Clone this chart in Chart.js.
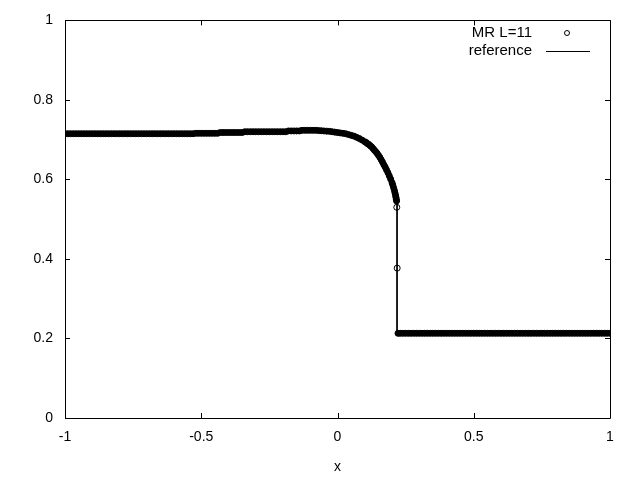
<!DOCTYPE html>
<html>
<head>
<meta charset="utf-8">
<script src="https://cdn.jsdelivr.net/npm/chart.js@4.4.1/dist/chart.umd.min.js"></script>
<style>
  html, body { margin: 0; padding: 0; background: #fff; }
  #wrap { width: 640px; height: 480px; }
</style>
</head>
<body>
<div id="wrap"><canvas id="grafico" width="640" height="480"></canvas></div>
<script>
// MR L=11 points (x, rho)
const mrX = [
  -1.00,-0.99,-0.98,-0.97,-0.96,-0.95,-0.94,-0.93,-0.92,-0.91,
  -0.90,-0.89,-0.88,-0.87,-0.86,-0.85,-0.84,-0.83,-0.82,-0.81,
  -0.80,-0.79,-0.78,-0.77,-0.76,-0.75,-0.74,-0.73,-0.72,-0.71,
  -0.70,-0.69,-0.68,-0.67,-0.66,-0.65,-0.64,-0.63,-0.62,-0.61,
  -0.60,-0.59,-0.58,-0.57,-0.56,-0.55,-0.54,-0.53,-0.52,-0.51,
  -0.50,-0.49,-0.48,-0.47,-0.46,-0.45,-0.44,-0.43,-0.42,-0.41,
  -0.40,-0.39,-0.38,-0.37,-0.36,-0.35,-0.34,-0.33,-0.32,-0.31,
  -0.30,-0.29,-0.28,-0.27,-0.26,-0.25,-0.24,-0.23,-0.22,-0.21,
  -0.20,-0.19,-0.18,-0.17,-0.16,-0.15,-0.14,-0.13,-0.12,-0.11,
  -0.10,-0.09,-0.08,-0.07,-0.06,-0.05,-0.04,-0.03,-0.02,-0.01,
   0.00, 0.01, 0.02, 0.03, 0.04, 0.05, 0.06, 0.07, 0.08, 0.09,
   0.10, 0.105, 0.11, 0.115, 0.12, 0.125, 0.13, 0.135, 0.14, 0.145,
   0.15, 0.155, 0.16, 0.165, 0.17, 0.175, 0.18, 0.185, 0.19, 0.195,
   0.20, 0.203, 0.206, 0.209, 0.211, 0.213, 0.2145, 0.2158, 0.2168,
   0.2175, 0.219, 0.222,
   0.23, 0.24, 0.25, 0.26, 0.27, 0.28, 0.29,
   0.30, 0.31, 0.32, 0.33, 0.34, 0.35, 0.36, 0.37, 0.38, 0.39,
   0.40, 0.41, 0.42, 0.43, 0.44, 0.45, 0.46, 0.47, 0.48, 0.49,
   0.50, 0.51, 0.52, 0.53, 0.54, 0.55, 0.56, 0.57, 0.58, 0.59,
   0.60, 0.61, 0.62, 0.63, 0.64, 0.65, 0.66, 0.67, 0.68, 0.69,
   0.70, 0.71, 0.72, 0.73, 0.74, 0.75, 0.76, 0.77, 0.78, 0.79,
   0.80, 0.81, 0.82, 0.83, 0.84, 0.85, 0.86, 0.87, 0.88, 0.89,
   0.90, 0.91, 0.92, 0.93, 0.94, 0.95, 0.96, 0.97, 0.98, 0.99,
   1.00
];
const mrY = [
  0.715,0.715,0.715,0.715,0.715,0.715,0.715,0.715,0.715,0.715,
  0.715,0.715,0.715,0.715,0.715,0.715,0.715,0.715,0.715,0.715,
  0.715,0.715,0.715,0.715,0.715,0.715,0.715,0.715,0.715,0.715,
  0.715,0.715,0.715,0.715,0.715,0.715,0.715,0.715,0.715,0.715,
  0.715,0.715,0.715,0.715,0.715,0.715,0.715,0.715,0.716,0.716,
  0.716,0.716,0.716,0.716,0.716,0.716,0.716,0.718,0.718,0.718,
  0.718,0.718,0.718,0.718,0.718,0.718,0.720,0.720,0.720,0.720,
  0.720,0.720,0.720,0.720,0.720,0.720,0.720,0.720,0.720,0.720,
  0.720,0.720,0.722,0.722,0.722,0.722,0.722,0.7235,0.7235,0.7235,
  0.7235,0.7235,0.7235,0.723,0.7225,0.722,0.7215,0.721,0.720,0.719,
  0.718,0.717,0.716,0.715,0.713,0.711,0.709,0.706,0.703,0.699,
  0.695,0.693,0.690,0.688,0.685,0.682,0.678,0.674,0.670,0.666,
  0.661,0.656,0.650,0.644,0.637,0.631,0.624,0.617,0.609,0.601,
  0.592,0.586,0.579,0.572,0.566,0.560,0.555,0.550,0.546,
  0.530,0.377,0.213,
  0.213,0.213,0.213,0.213,0.213,0.213,0.213,
  0.213,0.213,0.213,0.213,0.213,0.213,0.213,0.213,0.213,0.213,
  0.213,0.213,0.213,0.213,0.213,0.213,0.213,0.213,0.213,0.213,
  0.213,0.213,0.213,0.213,0.213,0.213,0.213,0.213,0.213,0.213,
  0.213,0.213,0.213,0.213,0.213,0.213,0.213,0.213,0.213,0.213,
  0.213,0.213,0.213,0.213,0.213,0.213,0.213,0.213,0.213,0.213,
  0.213,0.213,0.213,0.213,0.213,0.213,0.213,0.213,0.213,0.213,
  0.213,0.213,0.213,0.213,0.213,0.213,0.213,0.213,0.213,0.213,
  0.213
];

// reference solution (thin line)
const refX = [-1.00, -0.52, -0.44, -0.34, -0.18, -0.12, -0.07, -0.02, 0.02, 0.05, 0.08, 0.10, 0.12, 0.14, 0.16, 0.18, 0.20, 0.21, 0.215, 0.2185, 0.2185, 1.00];
const refY = [0.715, 0.715, 0.716, 0.720, 0.722, 0.7235, 0.723, 0.720, 0.716, 0.711, 0.703, 0.695, 0.685, 0.670, 0.650, 0.624, 0.592, 0.571, 0.555, 0.545, 0.213, 0.213];

const xTicks = [-1, -0.5, 0, 0.5, 1];
const yTicks = [0, 0.2, 0.4, 0.6, 0.8, 1];
const labels = ["MR L=11", "reference"];

const FONT = "'Liberation Sans', Arial, sans-serif";
const FSIZE = 14;

/* ------------ marco, marcas y leyenda estilo gnuplot ------------ */
const gnuplotFrame = {
  id: "gnuplotFrame",
  afterDatasetsDraw(chart) {
    const { ctx, chartArea: a, scales } = chart;
    const L = 5;
    ctx.save();
    ctx.strokeStyle = "#000";
    ctx.lineWidth = 1;
    ctx.beginPath();
    ctx.rect(Math.round(a.left) + 0.5, Math.round(a.top) + 0.5,
             Math.round(a.right - a.left), Math.round(a.bottom - a.top));
    xTicks.forEach(v => {
      const px = Math.round(scales.x.getPixelForValue(v)) + 0.5;
      ctx.moveTo(px, a.bottom); ctx.lineTo(px, a.bottom - L);
      ctx.moveTo(px, a.top); ctx.lineTo(px, a.top + L);
    });
    yTicks.forEach(v => {
      const py = Math.round(scales.y.getPixelForValue(v)) + 0.5;
      ctx.moveTo(a.left, py); ctx.lineTo(a.left + L, py);
      ctx.moveTo(a.right, py); ctx.lineTo(a.right - L, py);
    });
    ctx.stroke();

    // leyenda
    ctx.fillStyle = "#000";
    ctx.font = "15px " + FONT;
    ctx.textAlign = "right";
    ctx.textBaseline = "middle";
    const tx = 532, y1 = 33, y2 = 51;
    ctx.fillText(labels[0], tx, y1);
    ctx.fillText(labels[1], tx, y2);
    ctx.beginPath();
    ctx.arc(567, y1, 2.5, 0, Math.PI * 2);
    ctx.fillStyle = "#fff";
    ctx.fill();
    ctx.stroke();
    ctx.beginPath();
    ctx.moveTo(546, y2 + 0.5);
    ctx.lineTo(590, y2 + 0.5);
    ctx.stroke();
    ctx.restore();
  }
};

const fmt = v => String(Math.round(v * 10) / 10);

function generarGrafico() {
  const ctx = document.getElementById("grafico");
  const mrData = mrX.map((x, i) => ({ x, y: mrY[i] }));
  const refData = refX.map((x, i) => ({ x, y: refY[i] }));

  new Chart(ctx, {
    type: "scatter",
    data: {
      datasets: [
        {
          label: labels[0],
          data: mrData,
          order: 1,
          showLine: false,
          pointStyle: "circle",
          pointRadius: 3,
          pointBorderWidth: 1,
          pointBorderColor: "#000",
          // hueco solo en los puntos aislados del choque
          pointBackgroundColor: c => (c.raw && c.raw.y > 0.3 && c.raw.y < 0.54) ? "#fff" : "#000"
        },
        {
          label: labels[1],
          data: refData,
          order: 0,
          showLine: true,
          borderColor: "#000",
          borderWidth: 1,
          pointRadius: 0,
          tension: 0
        }
      ]
    },
    options: {
      responsive: false,
      animation: false,
      events: [],
      layout: { padding: { top: 20, right: 30, left: 0, bottom: 0 } },
      plugins: { legend: { display: false }, tooltip: { enabled: false } },
      scales: {
        x: {
          type: "linear",
          min: -1, max: 1,
          grid: { display: false, drawTicks: false },
          border: { display: false },
          afterFit: s => { s.height = 62; },
          ticks: {
            stepSize: 0.5, padding: 11, color: "#000",
            font: { family: FONT, size: FSIZE },
            callback: fmt
          },
          title: {
            display: true, text: "x", color: "#000",
            font: { family: FONT, size: FSIZE },
            padding: { top: 0, bottom: 4 }
          }
        },
        y: {
          type: "linear",
          min: 0, max: 1,
          grid: { display: false, drawTicks: false },
          border: { display: false },
          afterFit: s => { s.width = 65; },
          ticks: {
            stepSize: 0.2, padding: 12, color: "#000",
            font: { family: FONT, size: FSIZE },
            callback: fmt
          }
        }
      }
    },
    plugins: [gnuplotFrame]
  });
}

document.addEventListener("DOMContentLoaded", generarGrafico);
</script>
</body>
</html>
